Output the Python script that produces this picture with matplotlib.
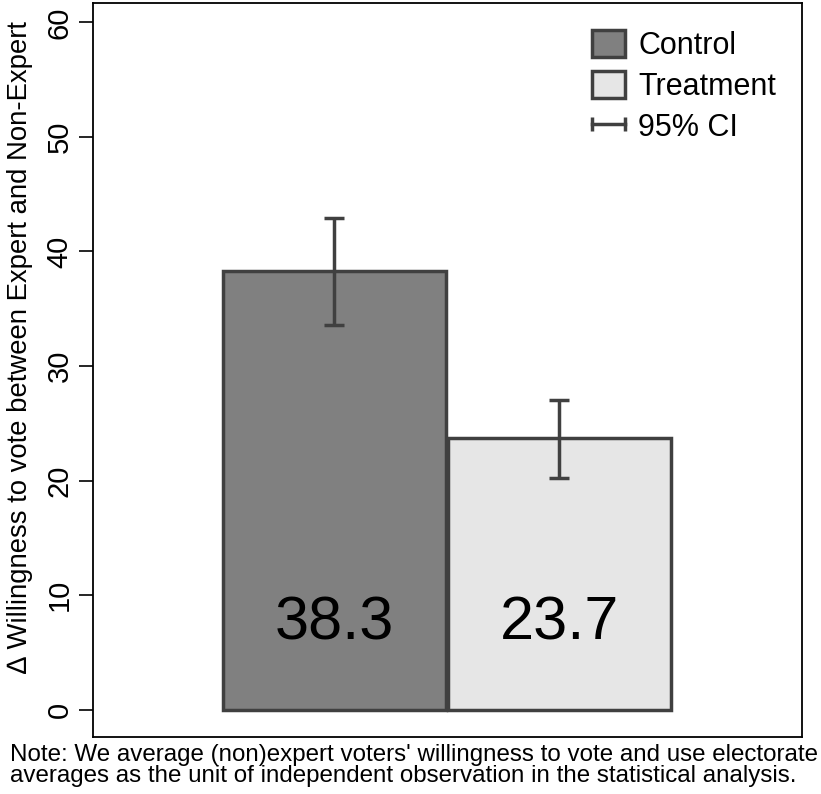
import matplotlib.pyplot as plt
from matplotlib.patches import Patch
from matplotlib.lines import Line2D
from matplotlib.legend_handler import HandlerLine2D

groups = ['Control', 'Treatment']
means = [38.3, 23.7]
ci_low = [33.6, 20.2]
ci_high = [42.9, 27.0]
fills = ['#808080', '#e6e6e6']
edge = '#404040'
ylabel = '\u2206 Willingness to vote between Expert and Non-Expert'
note = ("Note: We average (non)expert voters' willingness to vote and use electorate\n"
        "averages as the unit of independent observation in the statistical analysis.")

plt.rcParams['font.family'] = ['Liberation Sans', 'DejaVu Sans']

fig = plt.figure(figsize=(8.21, 7.94), dpi=100)
ax = fig.add_axes([0.1133, 0.0718, 0.8636, 0.9244])

x = list(range(len(groups)))
ax.bar(x, means, width=0.99, color=fills, edgecolor=edge, linewidth=2.5, zorder=2)

yerr = [[m - lo for m, lo in zip(means, ci_low)],
        [hi - m for m, hi in zip(means, ci_high)]]
ax.errorbar(x, means, yerr=yerr, fmt='none', ecolor=edge, elinewidth=2.5,
            capsize=7.5, capthick=2.5, zorder=3)

for xi, m in zip(x, means):
    ax.text(xi, 7.45, f'{m:.1f}', ha='center', va='center', fontsize=44, color='black')

ax.set_xlim(-1.073, 2.078)
ax.set_ylim(-2.4, 61.7)
ax.set_xticks([])
ax.set_yticks([0, 10, 20, 30, 40, 50, 60])
ax.tick_params(axis='y', labelsize=21, length=10, width=1.2, pad=4)
for lab in ax.get_yticklabels():
    lab.set_rotation(90)
    lab.set_va('center')
for s in ax.spines.values():
    s.set_linewidth(1.3)
ax.set_ylabel(ylabel, fontsize=19.8)
ax.yaxis.set_label_coords(-0.085, 0.531)

handles = [Patch(facecolor=fills[0], edgecolor=edge, linewidth=2.5),
           Patch(facecolor=fills[1], edgecolor=edge, linewidth=2.5),
           Line2D([], [], color=edge, lw=2.5, marker='|', markersize=10, markeredgewidth=2.5)]
ax.legend(handles, groups + ['95% CI'], loc='upper right', frameon=False,
          fontsize=22, numpoints=2, handlelength=1.05, handleheight=1.0,
          handletextpad=0.45, labelspacing=0.33, borderaxespad=0.4,
          bbox_to_anchor=(0.998, 0.997),
          handler_map={Line2D: HandlerLine2D(marker_pad=0)})

fig.text(0.012, 0.063, note, ha='left', va='top', fontsize=17.4, linespacing=0.92)

fig.savefig('out.png', dpi=100)
